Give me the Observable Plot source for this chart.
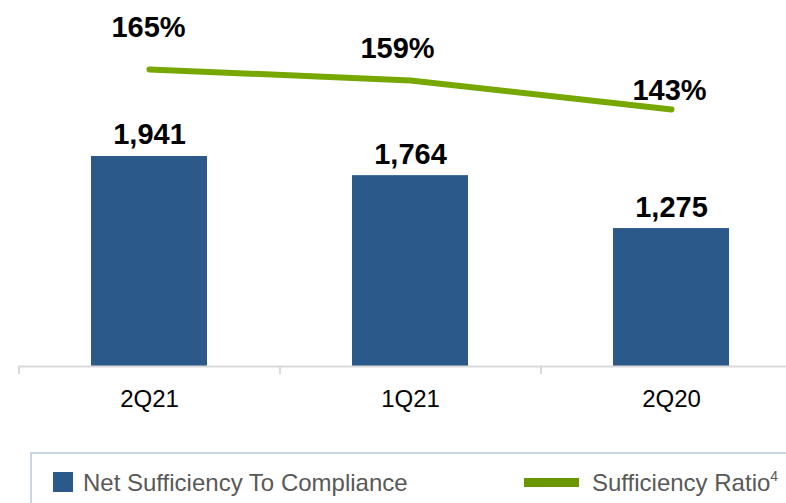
<!DOCTYPE html>
<html><head><meta charset="utf-8">
<script src="https://cdn.jsdelivr.net/npm/d3@7"></script>
<script src="https://cdn.jsdelivr.net/npm/@observablehq/plot@0.6"></script>
<style>
body{margin:0;background:#fff;font-family:"Liberation Sans",Arial,Helvetica,sans-serif;overflow:hidden;width:786px;height:503px;}
#chart svg{display:block;font-family:"Liberation Sans",Arial,Helvetica,sans-serif;}
#legend{position:relative;margin-left:30px;height:60px;border-top:2px solid #c8d5e2;border-left:2px solid #c8d5e2;color:#595959;font-size:24px;}
#legend .sw{position:absolute;}
#legend .lb{position:absolute;top:17px;line-height:24px;white-space:nowrap;}
#legend sup{font-size:14px;vertical-align:0;position:relative;top:-10px;}
</style></head><body>
<div id="chart"></div>
<div id="legend">
  <div class="sw" style="left:21px;top:18px;width:20px;height:20px;background:#2b5a8a"></div>
  <div class="lb" style="left:51px">Net Sufficiency To Compliance</div>
  <div class="sw" style="left:492px;top:24px;width:55px;height:9px;background:#6a9600"></div>
  <div class="lb" style="left:560px">Sufficiency Ratio<sup>4</sup></div>
</div>
<script>
const quarters = ["2Q21", "1Q21", "2Q20"];
const netSufficiency = [1941, 1764, 1275];
const sufficiencyRatio = [165, 159, 143];
const barLabels = ["1,941", "1,764", "1,275"];
const ratioLabels = ["165%", "159%", "143%"];

const rows = quarters.map((q, i) => ({q, v: netSufficiency[i], r: sufficiencyRatio[i], bl: barLabels[i], rl: ratioLabels[i]}));

// secondary axis for the ratio line, mapped into the bar scale's units
const ratioToY = d3.scaleLinear().domain([143, 165]).range([2375, 2745]);

const labelOffsets = [[-1, -32], [-13, -22], [-2, -10]];
const font = "Liberation Sans, Arial, Helvetica, sans-serif";

const chart = Plot.plot({
  width: 786,
  height: 452,
  marginLeft: 18,
  marginRight: 0,
  marginTop: 0,
  marginBottom: 86,
  style: {fontFamily: font, background: "#fff", overflow: "visible"},
  x: {domain: quarters, range: [18, 801], paddingInner: 0.556, paddingOuter: 0.278, label: null},
  y: {domain: [0, 3000], range: [366, 41.4], axis: null},
  marks: [
    Plot.barY(rows, {x: "q", y: "v", fill: "#2b5a8a"}),
    Plot.ruleY([0], {stroke: "#d9d9d9", strokeWidth: 2}),
    Plot.axisX({tickSize: 8, tickFormat: () => "", dx: -130.5, stroke: "#d9d9d9", strokeWidth: 2, tickPadding: 0, label: null}),
    Plot.axisX({tickSize: 0, tickPadding: 23, fontSize: 24, fill: "#000", label: null}),
    Plot.text(rows, {x: "q", y: "v", text: "bl", dy: -12, lineAnchor: "bottom", fontSize: 29, fontWeight: "bold", fill: "#000"}),
    Plot.line(rows, {x: "q", y: d => ratioToY(d.r), stroke: "#76a800", strokeWidth: 6, strokeLinecap: "round", strokeLinejoin: "round"}),
    ...rows.map((d, i) => Plot.text([d], {x: "q", y: e => ratioToY(e.r), text: "rl", dx: labelOffsets[i][0], dy: labelOffsets[i][1], lineAnchor: "bottom", fontSize: 29, fontWeight: "bold", fill: "#000"}))
  ]
});
document.getElementById("chart").appendChild(chart);
</script>
</body></html>
